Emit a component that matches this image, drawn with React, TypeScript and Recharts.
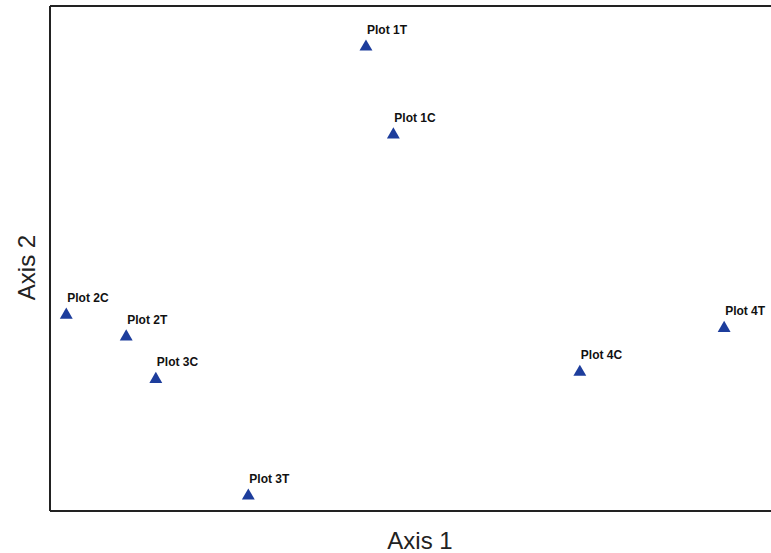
import { ScatterChart, Scatter, XAxis, YAxis, ReferenceLine, Symbols, Label } from 'recharts';

const plotNames = ['Plot 1T', 'Plot 1C', 'Plot 2C', 'Plot 2T', 'Plot 3C', 'Plot 3T', 'Plot 4C', 'Plot 4T'];
const axis1Scores = [4.27, 4.64, 0.22, 1.03, 1.43, 2.68, 7.16, 9.11];
const axis2Scores = [9.21, 7.47, 3.90, 3.47, 2.63, 0.32, 2.77, 3.64];

const points = plotNames.map((name, i) => ({ name, x: axis1Scores[i], y: axis2Scores[i] }));

const markerColor = '#1d3d9c';

const PlotMarker = (props: any) => {
  const { cx, cy, payload } = props;
  return (
    <g>
      <Symbols cx={cx} cy={cy + 1} type="triangle" size={72} fill={markerColor} />
      <text
        x={cx + 1}
        y={cy - 12}
        fontFamily="Liberation Sans, Arial, sans-serif"
        fontWeight="bold"
        fontSize={12}
        fill="#111"
      >
        {payload.name}
      </text>
    </g>
  );
};

const Axis2Title = (props: any) => {
  const { viewBox } = props;
  const x = 35;
  const y = viewBox.y + viewBox.height / 2 + 9;
  return (
    <text
      x={x}
      y={y}
      transform={`rotate(-90, ${x}, ${y})`}
      textAnchor="middle"
      fontFamily="Liberation Sans, Arial, sans-serif"
      fontSize={24}
      fill="#222"
    >
      Axis 2
    </text>
  );
};

export default function App() {
  return (
    <div style={{ position: 'absolute', left: 0, top: 0, width: 771, height: 553, overflow: 'hidden', background: '#fff' }}>
      <ScatterChart width={800} height={553} margin={{ top: 6, right: 10, bottom: 0, left: 0 }}>
        <XAxis
          type="number"
          dataKey="x"
          domain={[0, 10]}
          height={42}
          tick={false}
          tickLine={false}
          axisLine={{ stroke: '#222', strokeWidth: 2 }}
        >
          <Label
            value="Axis 1"
            position="insideBottom"
            offset={4}
            style={{ fontFamily: 'Liberation Sans, Arial, sans-serif', fontSize: 24, fill: '#222' }}
          />
        </XAxis>
        <YAxis
          type="number"
          dataKey="y"
          domain={[0, 10]}
          width={50}
          tick={false}
          tickLine={false}
          axisLine={{ stroke: '#222', strokeWidth: 2 }}
        >
          <Label content={<Axis2Title />} />
        </YAxis>
        <ReferenceLine y={10} stroke="#222" strokeWidth={2} />
        <Scatter data={points} shape={<PlotMarker />} isAnimationActive={false} />
      </ScatterChart>
    </div>
  );
}
